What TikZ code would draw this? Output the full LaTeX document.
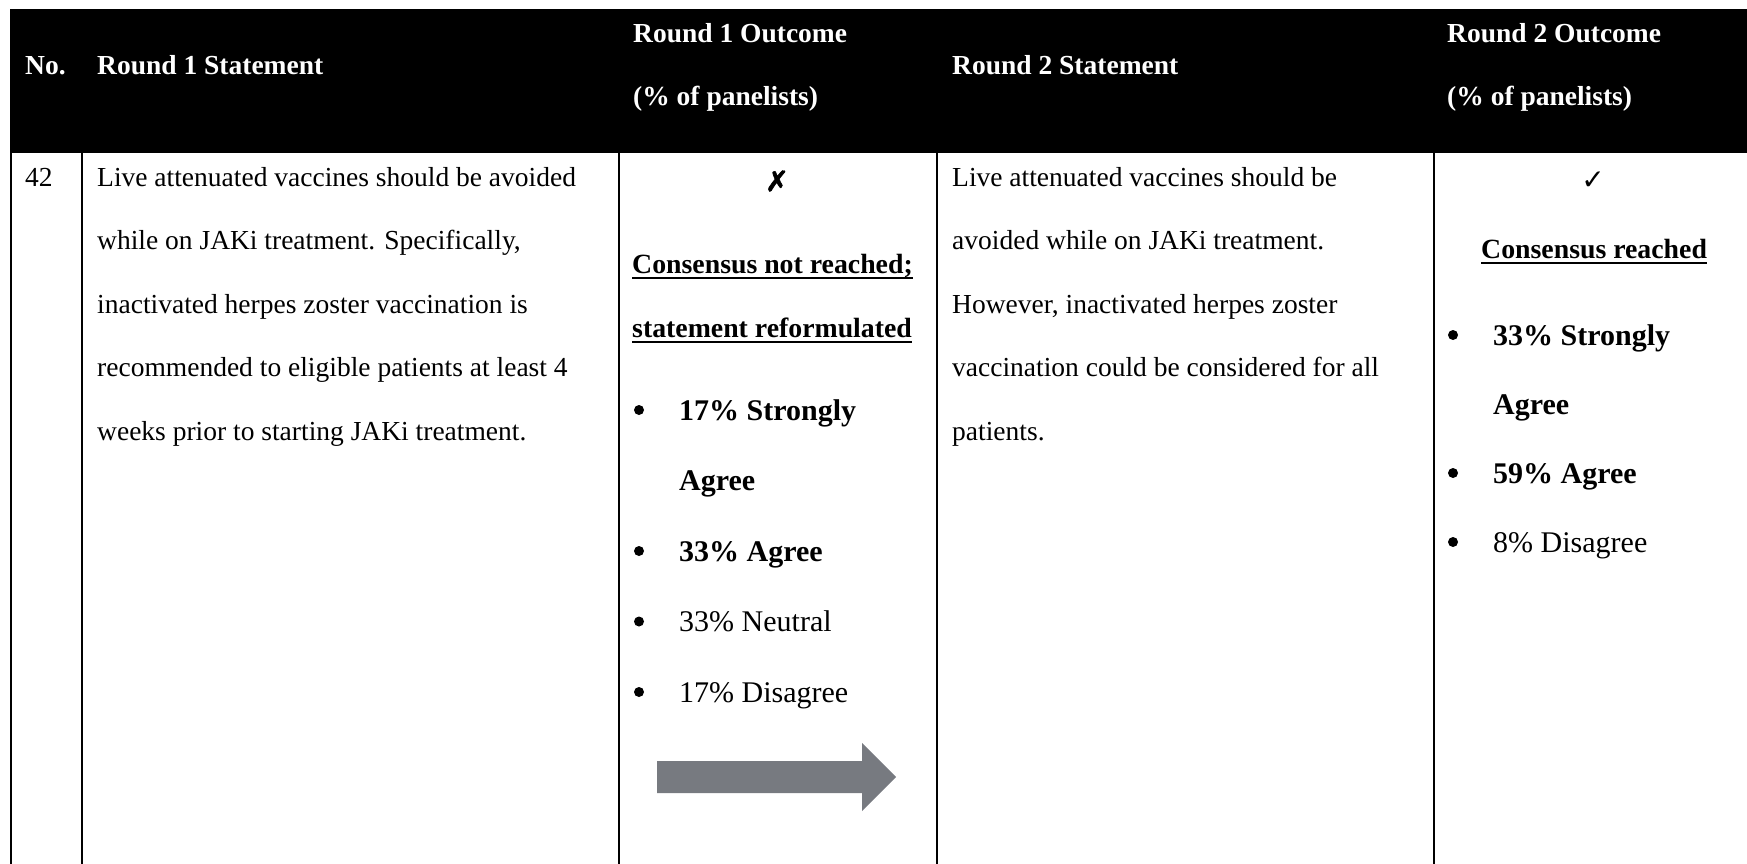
\documentclass[tikz,border=0pt]{standalone}
\usepackage{fontspec}
\setmainfont{Liberation Serif}
\newfontfamily\symfont{DejaVu Sans}
\newfontfamily\heavysym[RawFeature={embolden=2.5}]{DejaVu Sans}
\definecolor{arrowgray}{HTML}{777A80}

\begin{document}
\begin{tikzpicture}[x=1pt,y=-1pt,
  hdr/.style={anchor=base west, inner sep=0pt, text=white,
    font=\bfseries\fontsize{27.5}{33}\selectfont},
  bodytxt/.style={anchor=base west, inner sep=0pt,
    font=\fontsize{27.5}{33}\selectfont},
  headline/.style={anchor=base west, inner sep=0pt,
    font=\bfseries\fontsize{27.8}{33}\selectfont},
  itemtxt/.style={anchor=base west, inner sep=0pt,
    font=\fontsize{30}{36}\selectfont},
  itembold/.style={itemtxt, font=\bfseries\fontsize{30}{36}\selectfont},
  bulletdot/.style={circle, fill=black, inner sep=0pt, minimum size=10pt},
  gridrule/.style={line width=2.2pt},
  uline/.style={line width=2pt}]
\useasboundingbox (0,0) rectangle (1747,864);

% header band
\fill[black] (10,9) rectangle (1747,153);
\node[hdr] (hno) at (25,75) {No.};
\node[hdr] (hr1s) at (97,75) {Round 1 Statement};
\node[hdr] (hr1o) at (633,43) {Round 1 Outcome};
\node[hdr] (hr1p) at (633,106) {(\% of panelists)};
\node[hdr] (hr2s) at (952,75) {Round 2 Statement};
\node[hdr] (hr2o) at (1447,43) {Round 2 Outcome};
\node[hdr] (hr2p) at (1447,106) {(\% of panelists)};

% column rules
\foreach \cx in {11,82,619,937,1434}
  \draw[gridrule] (\cx,153) -- (\cx,864);

% number
\node[bodytxt] (num) at (25,186) {42};

% round 1 statement
\foreach \t [count=\i from 0] in {
  Live attenuated vaccines should be avoided,
  {while on JAKi treatment. Specifically,},
  inactivated herpes zoster vaccination is,
  recommended to eligible patients at least 4,
  weeks prior to starting JAKi treatment.}
  \node[bodytxt] (ra\i) at (97,186+63.5*\i) {\t};

% round 2 statement
\foreach \t [count=\i from 0] in {
  Live attenuated vaccines should be,
  avoided while on JAKi treatment.,
  {However, inactivated herpes zoster},
  vaccination could be considered for all,
  patients.}
  \node[bodytxt] (rb\i) at (952,186+63.5*\i) {\t};

% round 1 outcome
\node[inner sep=0pt, font=\heavysym\fontsize{28}{30}\selectfont] (cross) at (777,181) {✗};
\node[headline] (c1a) at (632,273) {Consensus not reached;};
\draw[uline] ([yshift=-5pt]c1a.base west) -- ([yshift=-5pt]c1a.base east);
\node[headline] (c1b) at (632,337) {statement reformulated};
\draw[uline] ([yshift=-5pt]c1b.base west) -- ([yshift=-5pt]c1b.base east);

\node[itembold] (o1a) at (679,420) {17\% Strongly};
\node[itembold] (o1b) at (679,490.5) {Agree};
\node[itembold] (o1c) at (679,561) {33\% Agree};
\node[itemtxt]  (o1d) at (679,631.5) {33\% Neutral};
\node[itemtxt]  (o1e) at (679,702) {17\% Disagree};
\foreach \b in {420,561,631.5,702}
  \node[bulletdot] at (639,\b-10) {};

% block arrow towards round 2
\fill[arrowgray] (657,761) -- (862,761) -- (862,743) -- (896,777)
  -- (862,811) -- (862,793) -- (657,793) -- cycle;

% round 2 outcome
\node[inner sep=0pt, font=\symfont\fontsize{28}{30}\selectfont] (tick) at (1593,181) {✓};
\node[headline] (c2a) at (1481,258) {Consensus reached};
\draw[uline] ([yshift=-5pt]c2a.base west) -- ([yshift=-5pt]c2a.base east);

\node[itembold] (o2a) at (1493,345) {33\% Strongly};
\node[itembold] (o2b) at (1493,414) {Agree};
\node[itembold] (o2c) at (1493,483) {59\% Agree};
\node[itemtxt]  (o2d) at (1493,552) {8\% Disagree};
\foreach \b in {345,483,552}
  \node[bulletdot] at (1453,\b-10) {};
\end{tikzpicture}
\end{document}
